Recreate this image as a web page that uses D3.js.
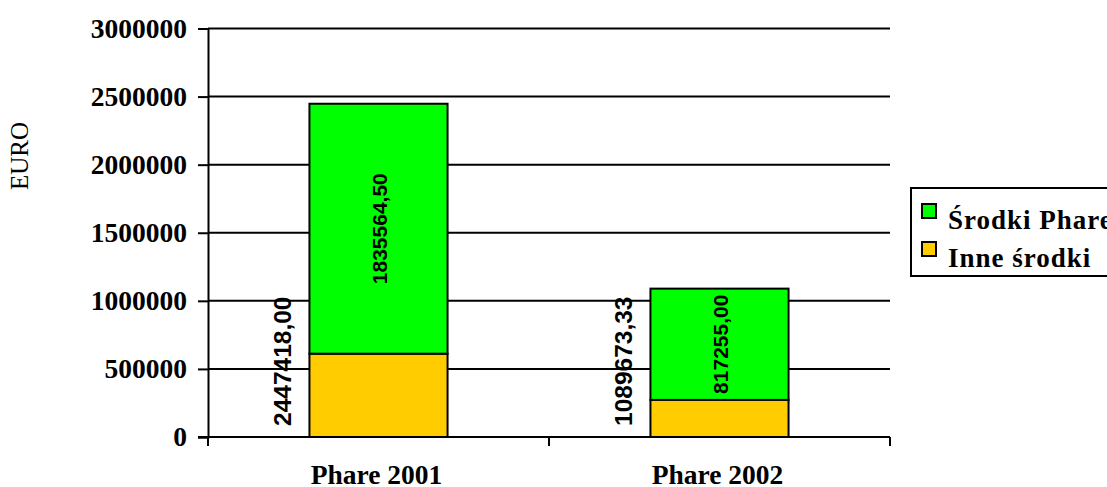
<!DOCTYPE html>
<html>
<head>
<meta charset="utf-8">
<script src="https://cdn.jsdelivr.net/npm/d3@7"></script>
<style>
  html, body { margin: 0; padding: 0; background: #fff; }
  svg { display: block; }
</style>
</head>
<body>
<svg id="chart" width="1107" height="487"></svg>
<script>
const categories = ["Phare 2001", "Phare 2002"];
const srodkiPhare = [1835564.50, 817255.00];
const inneSrodki = [611853.50, 272418.33];
const totals = [2447418.00, 1089673.33];
const phareLabels = ["1835564,50", "817255,00"];
const totalLabels = ["2447418,00", "1089673,33"];
const yTicks = [0, 500000, 1000000, 1500000, 2000000, 2500000, 3000000];
const seriesNames = ["Środki Phare", "Inne środki"];
const seriesColors = ["#00FF00", "#FFCC00"];

(function () {
const svg = d3.select("#chart");
const pLeft = 208, pRight = 890, pTop = 28.5, pBottom = 437;
const serif = "'Liberation Serif', 'Times New Roman', serif";
const sans = "'Liberation Sans', Arial, sans-serif";

const x = d3.scaleBand().domain(categories).range([pLeft, pRight]).padding(0);
const y = d3.scaleLinear().domain([0, 3000000]).range([pBottom, pTop]);
const barW = x.bandwidth() * 0.405;

// gridlines
svg.append("g").selectAll("line").data(yTicks.filter(d => d > 0)).join("line")
  .attr("x1", pLeft).attr("x2", pRight)
  .attr("y1", d => y(d)).attr("y2", d => y(d))
  .attr("stroke", "#000").attr("stroke-width", 2);

// y axis
const yAxis = svg.append("g").attr("transform", `translate(${pLeft},0)`)
  .call(d3.axisLeft(y).tickValues(yTicks).tickFormat(d3.format("d")).tickSizeOuter(0).tickSize(10).tickPadding(11));
yAxis.select(".domain").attr("stroke-width", 2);
yAxis.selectAll(".tick line").attr("stroke-width", 2);
yAxis.selectAll("text").attr("font-family", serif).attr("font-weight", "bold")
  .attr("font-size", 27.5).attr("fill", "#000");

// stacked bars
const stackData = categories.map((c, i) => ({cat: c, inne: inneSrodki[i], phare: srodkiPhare[i]}));
const stack = d3.stack().keys(["inne", "phare"]);
const layers = stack(stackData);
const colorByKey = {phare: seriesColors[0], inne: seriesColors[1]};
svg.append("g").selectAll("g").data(layers).join("g")
  .attr("fill", d => colorByKey[d.key])
  .selectAll("rect").data(d => d).join("rect")
  .attr("x", d => x(d.data.cat) + (x.bandwidth() - barW) / 2)
  .attr("width", barW)
  .attr("y", d => y(d[1]))
  .attr("height", d => y(d[0]) - y(d[1]))
  .attr("stroke", "#000").attr("stroke-width", 2);

// x axis
const xAxisG = svg.append("g").attr("transform", `translate(0,${pBottom})`);
xAxisG.append("line").attr("x1", pLeft - 10).attr("x2", pRight).attr("y1", 0).attr("y2", 0)
  .attr("stroke", "#000").attr("stroke-width", 2);
const xBounds = [pLeft, pLeft + x.step(), pRight];
xAxisG.selectAll("line.tk").data(xBounds).join("line").attr("class", "tk")
  .attr("x1", d => d).attr("x2", d => d).attr("y1", 0).attr("y2", 9)
  .attr("stroke", "#000").attr("stroke-width", 2);
xAxisG.selectAll("text").data(categories).join("text")
  .attr("x", d => x(d) + x.bandwidth() / 2 - 2).attr("y", 47)
  .attr("text-anchor", "middle")
  .attr("font-family", serif).attr("font-weight", "bold").attr("font-size", 27.5)
  .text(d => d);

// y label
svg.append("text")
  .attr("transform", `translate(28,156) rotate(-90)`)
  .attr("text-anchor", "middle")
  .attr("font-family", serif).attr("font-size", 25)
  .text("EURO");

// total labels (rotated, left of bar)
svg.append("g").selectAll("text").data(categories).join("text")
  .attr("transform", (d, i) => `translate(${x(d) + x.bandwidth() / 2 - 88},${y(0) - 11}) rotate(-90)`)
  .attr("font-family", sans).attr("font-weight", "bold").attr("font-size", 24.5)
  .text((d, i) => totalLabels[i]);

// phare labels (centered in green segment)
svg.append("g").selectAll("text").data(categories).join("text")
  .attr("transform", (d, i) => {
    const cy = (y(inneSrodki[i]) + y(totals[i])) / 2;
    return `translate(${x(d) + x.bandwidth() / 2 + 8},${cy}) rotate(-90)`;
  })
  .attr("text-anchor", "middle")
  .attr("font-family", sans).attr("font-weight", "bold").attr("font-size", 21)
  .text((d, i) => phareLabels[i]);

// legend
const lg = svg.append("g");
lg.append("rect").attr("x", 911).attr("y", 188).attr("width", 220).attr("height", 88)
  .attr("fill", "#fff").attr("stroke", "#000").attr("stroke-width", 2);
const baselines = [229, 267];
seriesNames.forEach((name, i) => {
  lg.append("rect").attr("x", 922).attr("y", baselines[i] - 25).attr("width", 14).attr("height", 14)
    .attr("fill", seriesColors[i]).attr("stroke", "#000").attr("stroke-width", 2);
  lg.append("text").attr("x", 948).attr("y", baselines[i])
    .attr("font-family", serif).attr("font-weight", "bold").attr("font-size", 27)
    .attr("letter-spacing", 1)
    .text(name);
});
})();
</script>
</body>
</html>
